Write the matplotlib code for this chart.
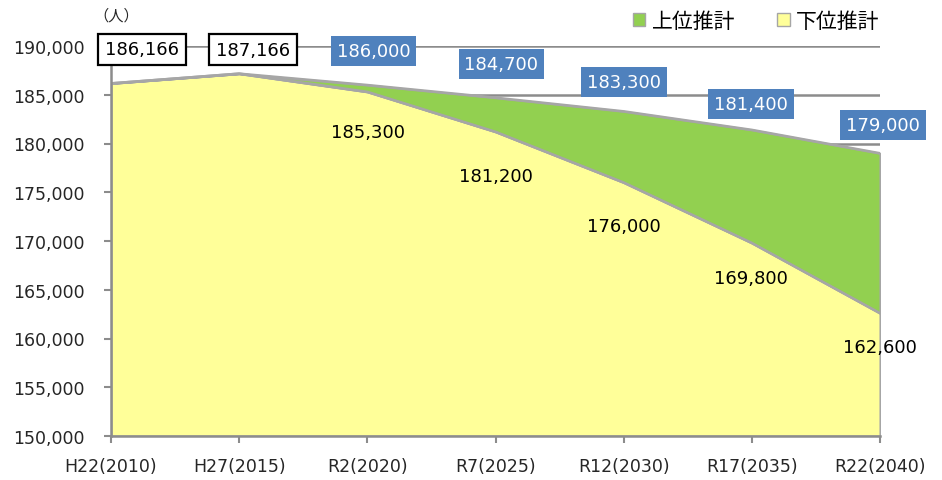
import matplotlib
matplotlib.use("Agg")
import matplotlib.pyplot as plt
import numpy as np
from matplotlib.transforms import offset_copy
from matplotlib.patches import Patch

plt.rcParams['font.family'] = ['DejaVu Sans', 'Noto Sans CJK JP']

categories = ["H22(2010)", "H27(2015)", "R2(2020)", "R7(2025)", "R12(2030)", "R17(2035)", "R22(2040)"]
upper = [186166, 187166, 186000, 184700, 183300, 181400, 179000]
lower = [186166, 187166, 185300, 181200, 176000, 169800, 162600]
yticks = [150000, 155000, 160000, 165000, 170000, 175000, 180000, 185000, 190000]

# label offsets in pixels (dx, dy)
upper_offsets = [(31, 34), (14, 24), (6, 34), (6, 34), (0, 29), (-1, 26), (3, 28)]
lower_offsets = [(1, -40), (0, -44), (0, -44), (-1, -35), (0, -34)]

GREEN = "#92D050"
YELLOW = "#FFFF99"
EDGE = "#A6A6A6"
BLUE = "#4F81BD"
GRID = "#8C8C8C"
TXT = "#262626"

fig = plt.figure(figsize=(9.42, 4.81), dpi=100)
ax = fig.add_axes([111/942, 1-437/481, (880-111)/942, (437-47)/481])

x = np.arange(len(categories))
ax.set_xlim(0, len(categories)-1)
ax.set_ylim(150000, 190000)

for yv in yticks:
    ax.axhline(yv, color=GRID, lw=1.8, zorder=0)

ax.fill_between(x, yticks[0], lower, facecolor=YELLOW, edgecolor=EDGE, lw=1.5, zorder=2)
ax.fill_between(x, lower, upper, facecolor=GREEN, edgecolor=EDGE, lw=1.5, zorder=2)
ax.plot(x, upper, color=EDGE, lw=1.8, zorder=3)
ax.plot(x, lower, color=EDGE, lw=1.8, zorder=3)

ax.set_yticks(yticks)
ax.set_yticklabels([f"{v:,}" for v in yticks])
ax.set_xticks(x)
ax.set_xticklabels(categories)
ax.tick_params(axis='y', labelsize=12.5, colors=GRID, labelcolor=TXT, length=5, width=1.5, pad=14)
ax.tick_params(axis='x', labelsize=12.5, colors=GRID, labelcolor=TXT, length=5, width=1.5, pad=10)

for s in ['top', 'right']:
    ax.spines[s].set_visible(False)
for s in ['left', 'bottom']:
    ax.spines[s].set_color(GRID)
    ax.spines[s].set_linewidth(1.8)
    ax.spines[s].set_zorder(4)

for i, v in enumerate(upper):
    dx, dy = upper_offsets[i]
    tr = offset_copy(ax.transData, fig=fig, x=dx, y=dy, units='dots')
    if i < 2:
        ax.text(i, v, f"{v:,}", transform=tr, ha='center', va='center', fontsize=13,
                color='black', zorder=6, clip_on=False,
                bbox=dict(boxstyle='square,pad=0.38', fc='white', ec='black', lw=1.6))
    else:
        ax.text(i, v, f"{v:,}", transform=tr, ha='center', va='center', fontsize=13,
                color='white', zorder=6, clip_on=False,
                bbox=dict(boxstyle='square,pad=0.33', fc=BLUE, ec=BLUE, lw=0))

for j, v in enumerate(lower[2:]):
    i = j + 2
    dx, dy = lower_offsets[j]
    tr = offset_copy(ax.transData, fig=fig, x=dx, y=dy, units='dots')
    ax.text(i, v, f"{v:,}", transform=tr, ha='center', va='center', fontsize=13,
            color='black', zorder=6, clip_on=False)

fig.text(116/942, 1-16/481, "（人）", fontsize=11, ha='center', va='center', color=TXT,
         family=['Noto Sans CJK JP', 'DejaVu Sans'])

handles = [Patch(facecolor=GREEN, edgecolor=EDGE, label="上位推計"),
           Patch(facecolor=YELLOW, edgecolor=EDGE, label="下位推計")]
fig.legend(handles=handles, loc='center', bbox_to_anchor=(756/942, 1-22/481), ncol=2,
           frameon=False, handlelength=0.62, handleheight=0.62,
           handletextpad=0.3, columnspacing=2.0, borderpad=0, borderaxespad=0,
           prop={'family': ['Noto Sans CJK JP', 'DejaVu Sans'], 'size': 15})

fig.savefig("out.png", dpi=100)
